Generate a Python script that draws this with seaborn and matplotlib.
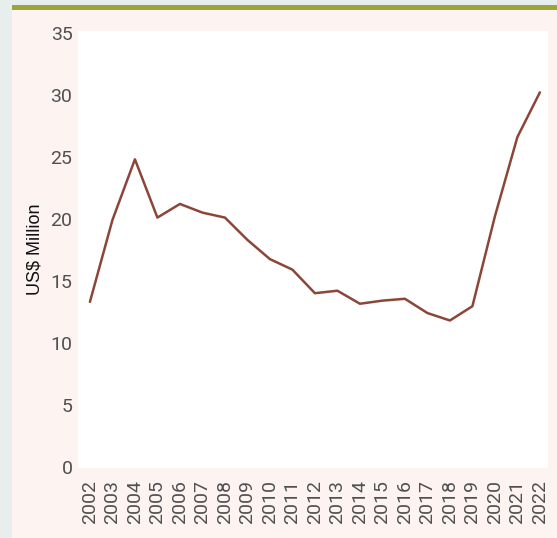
import numpy as np
import pandas as pd
import matplotlib
matplotlib.use("Agg")
import matplotlib.pyplot as plt
from matplotlib.patches import Rectangle
import seaborn as sns

# Data
years = list(range(2002, 2023))
values = [13.3, 19.9, 24.8, 20.1, 21.2, 20.5, 20.1, 18.3, 16.75, 15.9,
          14.0, 14.2, 13.15, 13.4, 13.55, 12.4, 11.8, 12.95, 20.2, 26.6, 30.2]
y_ticks = [0, 5, 10, 15, 20, 25, 30, 35]
y_label = "US$ Million"

df = pd.DataFrame({"year": years, "value": values})

sns.set_style("white")
plt.rcParams['font.family'] = ['Roboto', 'Liberation Sans', 'DejaVu Sans']

fig = plt.figure(figsize=(5.57, 5.38), dpi=100, facecolor="#fdf4f2")

# frame decorations: grey strips, green top bar
fig.patches.append(Rectangle((0, 0), 12 / 557, 1, transform=fig.transFigure,
                             facecolor="#e8eeee", edgecolor="none", zorder=0))
fig.patches.append(Rectangle((0, 1 - 5 / 538), 1, 5 / 538, transform=fig.transFigure,
                             facecolor="#e8eeee", edgecolor="none", zorder=0))
fig.patches.append(Rectangle((12 / 557, 1 - 10 / 538), 1, 5 / 538, transform=fig.transFigure,
                             facecolor="#9aa53b", edgecolor="none", zorder=0))

ax = fig.add_axes([78 / 557, 70 / 538, 470 / 557, 437 / 538])
ax.set_facecolor("white")

sns.lineplot(data=df, x="year", y="value", ax=ax, color="#8c4639", linewidth=1.8)

ax.set_xlim(2001.47, 2022.36)
ax.set_ylim(-0.1, 35.15)
ax.set_xticks(years)
ax.set_xticklabels([str(y) for y in years], rotation=90)
ax.set_yticks(y_ticks)

ax.tick_params(axis="both", length=0, labelsize=14, labelcolor="#505050")
ax.tick_params(axis="y", pad=4)
ax.tick_params(axis="x", pad=9)

ax.set_xlabel("")
ax.set_ylabel(y_label, fontsize=13, color="#111111",
              family=['Liberation Sans Narrow', 'Liberation Sans', 'DejaVu Sans'])
ax.yaxis.set_label_coords(-0.073, 0.5)

for s in ax.spines.values():
    s.set_visible(False)

fig.savefig("out.png", dpi=100, facecolor=fig.get_facecolor())
